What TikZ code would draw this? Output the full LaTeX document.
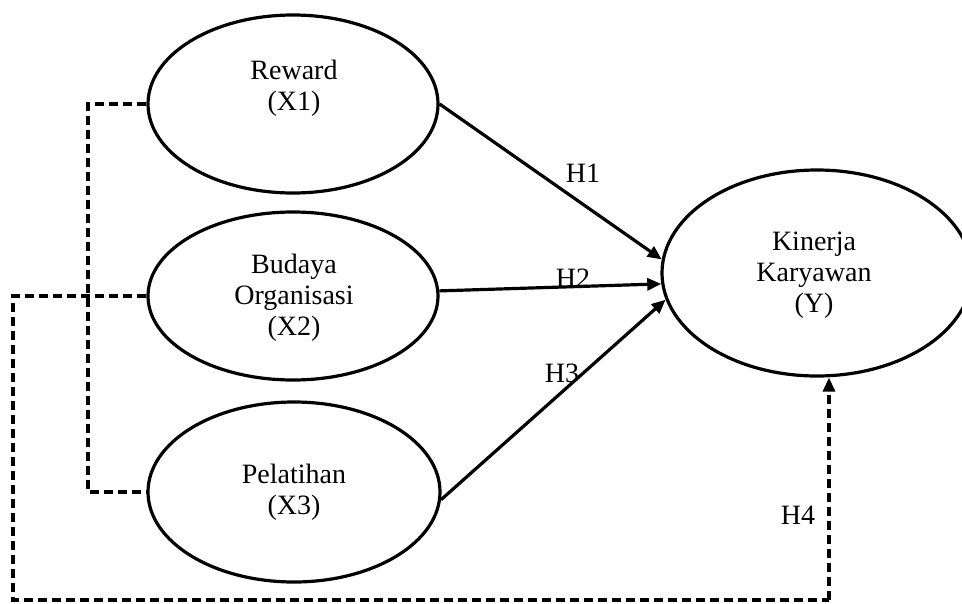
\documentclass[tikz,border=0pt]{standalone}
\usepackage{fontspec}
\setmainfont{Liberation Serif}
\usetikzlibrary{shapes.geometric,arrows.meta}
\begin{document}
\begin{tikzpicture}[x=1pt,y=-1pt,
  var/.style={draw,ellipse,line width=3.2pt,inner sep=0pt},
  txt/.style={align=center,font=\fontsize{28}{31}\selectfont,inner sep=0pt},
  hyp/.style={font=\fontsize{28}{31}\selectfont,inner sep=0pt},
  arr/.style={line width=3.2pt,-{Triangle[length=14pt,width=12pt]}},
  dashline/.style={line width=3.2pt,dash pattern=on 9pt off 5pt}]
\useasboundingbox (0,0) rectangle (962,603);
\fill[white] (0,0) rectangle (962,603);
% variables
\node[var,minimum width=290pt,minimum height=178pt] (r) at (293,104) {};
\node[txt] (rt) at (294,88) {Reward\\(X1)};
\node[var,minimum width=290pt,minimum height=168pt] (b) at (293,296) {};
\node[txt] (bt) at (294,298) {Budaya\\Organisasi\\(X2)};
\node[var,minimum width=292pt,minimum height=180pt] (p) at (294,492) {};
\node[txt] (pt) at (294,492) {Pelatihan\\(X3)};
\node[var,minimum width=310pt,minimum height=206pt] (y) at (817,273) {};
\node[txt] (yt) at (814,275) {Kinerja\\Karyawan\\(Y)};
% hypothesis labels
\node[hyp] (h1) at (583,173) {H1};
\node[hyp] (h2) at (573,278) {H2};
\node[hyp] (h3) at (562,373) {H3};
\node[hyp] (h4) at (798,515) {H4};
% arrows
\draw[arr] (r.east) -- (y.175);
\draw[arr] (b.2) -- (y.184);
\draw[arr] (p.357) -- (y.190);
% dashed links
\coordinate (k) at (88,300);
\draw[dashline] (r.west) -- (r.west -| k) -- (p.west -| k) -- (p.west);
\coordinate (c1) at (13,600);
\coordinate (c2) at (829,600);
\draw[dashline] (b.west) -| (c1) -- (c2);
\draw[dashline,-{Triangle[length=14pt,width=12pt]}] (c2) -- (c2 |- y.south);
\end{tikzpicture}
\end{document}
